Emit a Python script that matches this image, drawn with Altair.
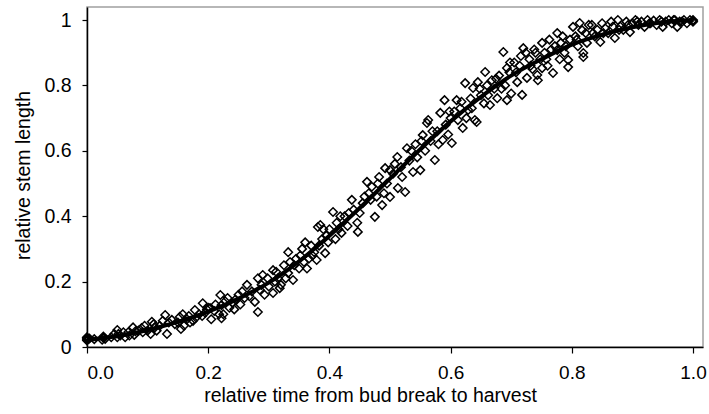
import altair as alt
import pandas as pd

# Observed points (relative time, relative stem length)
pt_x = [
    0, 0, 0, 0, 0, 0.004, 0.012, 0.025, 0.027, 0.027, 0.03, 0.04, 0.045,
    0.05, 0.05, 0.052, 0.055, 0.06, 0.063, 0.068, 0.07, 0.076, 0.078, 0.08, 0.085,
    0.09, 0.092, 0.095, 0.1,
    0.105, 0.107, 0.11, 0.112, 0.115, 0.12, 0.125, 0.129, 0.132, 0.135, 0.14, 0.145,
    0.15, 0.153, 0.155, 0.158, 0.16, 0.165, 0.168, 0.17, 0.175, 0.178, 0.18, 0.185,
    0.19, 0.191, 0.195, 0.198, 0.2,
    0.203, 0.205, 0.21, 0.212, 0.218, 0.22, 0.222, 0.222, 0.225, 0.228, 0.232, 0.235,
    0.24, 0.243, 0.245, 0.25, 0.253, 0.256, 0.26, 0.264, 0.268, 0.272, 0.277, 0.282,
    0.282, 0.285, 0.288, 0.29, 0.293, 0.298, 0.3,
    0.307, 0.307, 0.31, 0.312, 0.315, 0.318, 0.32, 0.325, 0.328, 0.332, 0.332, 0.335,
    0.34, 0.342, 0.345, 0.35, 0.352, 0.355, 0.358, 0.36, 0.363, 0.366, 0.37, 0.372,
    0.375, 0.379, 0.381, 0.383, 0.385, 0.388, 0.39, 0.393, 0.395, 0.398, 0.4,
    0.406, 0.41, 0.412, 0.415, 0.418, 0.42, 0.425, 0.43, 0.432, 0.437, 0.44, 0.446,
    0.447, 0.45, 0.455, 0.458, 0.462, 0.465, 0.468, 0.47, 0.475, 0.478, 0.48, 0.482,
    0.487, 0.49, 0.492, 0.495, 0.5, 0.5,
    0.505, 0.508, 0.513, 0.512, 0.518, 0.52, 0.525, 0.528, 0.532, 0.535, 0.538, 0.542,
    0.545, 0.55, 0.552, 0.554, 0.558, 0.561, 0.563, 0.567, 0.57, 0.574, 0.578, 0.58,
    0.583, 0.587, 0.59, 0.592, 0.596, 0.598, 0.6,
    0.602, 0.606, 0.61, 0.612, 0.616, 0.618, 0.62, 0.624, 0.626, 0.629, 0.633, 0.635,
    0.637, 0.64, 0.643, 0.645, 0.648, 0.65, 0.655, 0.657, 0.66, 0.662, 0.665, 0.668,
    0.672, 0.675, 0.677, 0.68, 0.684, 0.687, 0.69, 0.693, 0.693, 0.697, 0.698,
    0.7, 0.705, 0.708, 0.71, 0.714, 0.716, 0.718, 0.72, 0.724, 0.726, 0.73, 0.732,
    0.735, 0.738, 0.74, 0.743, 0.744, 0.748, 0.751, 0.751, 0.755, 0.758, 0.76, 0.763,
    0.766, 0.769, 0.772, 0.776, 0.776, 0.78, 0.782, 0.785, 0.788, 0.79, 0.794, 0.794,
    0.797,
    0.802, 0.806, 0.808, 0.81, 0.813, 0.817, 0.819, 0.819, 0.823, 0.825, 0.828, 0.833,
    0.835, 0.838, 0.842, 0.847, 0.85, 0.852, 0.855, 0.86, 0.865, 0.868, 0.871, 0.876,
    0.878, 0.88, 0.885, 0.89, 0.893, 0.896,
    0.9, 0.905, 0.908, 0.91, 0.915, 0.92, 0.925, 0.928, 0.93, 0.935, 0.94, 0.945,
    0.948, 0.95, 0.955, 0.96, 0.965, 0.968, 0.97, 0.974, 0.978, 0.982, 0.985, 0.99,
    0.995, 1.0, 1.0, 1.0,
]
pt_y = [
    0.022, 0.025, 0.028, 0.02, 0.03, 0.026, 0.024, 0.022, 0.028, 0.032, 0.025, 0.03, 0.04,
    0.03, 0.052, 0.04, 0.035, 0.045, 0.03, 0.045, 0.035, 0.06, 0.037, 0.048, 0.05,
    0.058, 0.045, 0.065, 0.05,
    0.04, 0.077, 0.07, 0.06, 0.05, 0.065, 0.08, 0.098, 0.04, 0.075, 0.083, 0.07,
    0.075, 0.092, 0.055, 0.1, 0.065, 0.085, 0.095, 0.075, 0.08, 0.113, 0.09, 0.1,
    0.095, 0.134, 0.105, 0.115, 0.12,
    0.119, 0.085, 0.11, 0.13, 0.1, 0.159, 0.128, 0.088, 0.1, 0.14, 0.15, 0.12,
    0.135, 0.115, 0.145, 0.16, 0.13, 0.17, 0.15, 0.19, 0.155, 0.17, 0.138, 0.107,
    0.21, 0.175, 0.19, 0.22, 0.16, 0.21, 0.185,
    0.165, 0.235, 0.2, 0.23, 0.21, 0.18, 0.19, 0.25, 0.21, 0.29, 0.226, 0.26,
    0.205, 0.25, 0.27, 0.24, 0.28, 0.3, 0.26, 0.32, 0.24, 0.27, 0.31, 0.28,
    0.29, 0.266, 0.367, 0.31, 0.373, 0.33, 0.36, 0.287, 0.34, 0.32, 0.36,
    0.413, 0.33, 0.38, 0.36, 0.4, 0.349, 0.4, 0.37, 0.41, 0.45, 0.42, 0.38,
    0.352, 0.41, 0.44, 0.46, 0.505, 0.47, 0.45, 0.49, 0.398, 0.46, 0.5, 0.52,
    0.434, 0.47, 0.547, 0.5, 0.541, 0.459,
    0.53, 0.56, 0.486, 0.581, 0.55, 0.52, 0.474, 0.608, 0.57, 0.6, 0.535, 0.62,
    0.58, 0.541, 0.63, 0.648, 0.6, 0.685, 0.694, 0.63, 0.66, 0.572, 0.66, 0.62,
    0.716, 0.633, 0.755, 0.68, 0.65, 0.72, 0.7,
    0.624, 0.72, 0.755, 0.694, 0.73, 0.75, 0.67, 0.807, 0.7, 0.725, 0.76, 0.73,
    0.792, 0.694, 0.688, 0.81, 0.79, 0.77, 0.745, 0.841, 0.8, 0.77, 0.74, 0.816,
    0.79, 0.82, 0.761, 0.83, 0.79, 0.902, 0.8, 0.853, 0.755, 0.84, 0.87,
    0.775, 0.87, 0.84, 0.81, 0.86, 0.89, 0.771, 0.914, 0.9, 0.823, 0.88, 0.86,
    0.85, 0.91, 0.9, 0.832, 0.816, 0.88, 0.93, 0.853, 0.9, 0.88, 0.86, 0.94,
    0.91, 0.838, 0.92, 0.96, 0.908, 0.88, 0.93, 0.95, 0.9, 0.92, 0.878, 0.856,
    0.94,
    0.979, 0.95, 0.94, 0.92, 0.991, 0.969, 0.899, 0.887, 0.96, 0.93, 0.985, 0.985,
    0.96, 0.95, 0.97, 0.933, 0.99, 0.96, 0.975, 0.96, 0.995, 0.98, 0.945, 1.0,
    0.97, 0.98, 0.97, 0.995, 0.985, 0.963,
    0.99, 1.0, 0.995, 0.985, 0.995, 0.979, 1.0, 0.99, 0.99, 0.998, 0.985, 1.0,
    0.995, 0.979, 0.995, 1.0, 0.99, 1.0, 1.0, 0.979, 0.995, 0.995, 1.0, 0.99,
    1.0, 1.0, 0.997, 0.995,
]

# Fitted curve
fit_x = [0, 0.05, 0.1, 0.15, 0.2, 0.25, 0.3, 0.35, 0.4, 0.45, 0.5,
         0.55, 0.6, 0.65, 0.7, 0.75, 0.8, 0.85, 0.9, 0.95, 1.0]
fit_y = [0.022, 0.033, 0.052, 0.077, 0.108, 0.148, 0.197, 0.262, 0.34, 0.425, 0.515,
         0.605, 0.69, 0.765, 0.83, 0.88, 0.925, 0.955, 0.978, 0.993, 1.0]

x_ticks = [0, 0.2, 0.4, 0.6, 0.8, 1.0]
y_ticks = [0, 0.2, 0.4, 0.6, 0.8, 1.0]

pts = pd.DataFrame({"x": pt_x, "y": pt_y})
fit = pd.DataFrame({"x": fit_x, "y": fit_y})

FONT = "Liberation Sans"

xs = alt.Scale(domain=[0, 1.0165], nice=False, zero=False)
ys = alt.Scale(domain=[0, 1.0398], nice=False, zero=False)

xaxis = alt.Axis(values=x_ticks, format=".1f", grid=False, tickSize=6, labelPadding=10,
                 labelFontSize=19,
                 title="relative time from bud break to harvest", titleFontSize=19.5,
                 titleX=283, titleY=54, titleBaseline="alphabetic", titleAnchor="middle",
                 titleAlign="center")
yaxis = alt.Axis(values=y_ticks, format=".1~f", grid=False, tickSize=5, labelPadding=11,
                 labelFontSize=19.5,
                 title="relative stem length", titleFontSize=19.5,
                 titleX=-58, titleY=168, titleBaseline="alphabetic", titleAlign="center",
                 titleAngle=-90)

points = alt.Chart(pts).mark_point(
    shape="diamond", filled=False, size=72, strokeWidth=1.5, color="black", opacity=1
).encode(
    x=alt.X("x:Q", scale=xs, axis=xaxis),
    y=alt.Y("y:Q", scale=ys, axis=yaxis),
)

line = alt.Chart(fit).mark_line(color="black", strokeWidth=4, interpolate="monotone").encode(
    x=alt.X("x:Q", scale=xs),
    y=alt.Y("y:Q", scale=ys),
)

chart = alt.layer(points, line).properties(
    width=616, height=340,
    autosize=alt.AutoSizeParams(type="none"),
    padding={"left": 87, "top": 7, "right": 6, "bottom": 67},
    background="white",
).configure_view(
    stroke="#a0a0a0", strokeWidth=1.5
).configure_axis(
    domainColor="black", domainWidth=1.5, tickColor="black", tickWidth=1.2,
    labelFont=FONT, labelColor="black",
    titleFont=FONT, titleColor="black", titleFontWeight="normal",
)

chart.save("out.html", embed_options={"renderer": "svg", "actions": False})
